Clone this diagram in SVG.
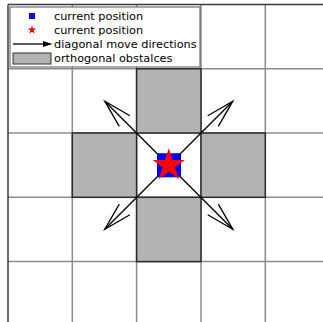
<svg xmlns="http://www.w3.org/2000/svg" width="323" height="322" viewBox="0 0 323 322">
<style>
.grid{stroke:#8c8c8c;stroke-width:1.5;fill:none}
.frame{stroke:#3a3a3a;stroke-width:1.5;fill:none}
.obs{fill:#b3b3b3;stroke:#2a2a2a;stroke-width:1.5}
.conn{stroke:#000;stroke-width:1.3;fill:none}
.lbl{font-family:"DejaVu Sans","Liberation Sans",sans-serif;font-size:11.3px;fill:#000}
</style>
<defs>
<marker id="open" markerUnits="userSpaceOnUse" orient="auto" refX="0" refY="0" markerWidth="40" markerHeight="40" overflow="visible">
<path d="M-28,-7.5 L0,0 L-28,7.5" fill="none" stroke="#000" stroke-width="1.3"/>
</marker>
<path id="star" d="M0,-1 L0.2245,-0.309 L0.9511,-0.309 L0.3633,0.118 L0.5878,0.809 L0,0.382 L-0.5878,0.809 L-0.3633,0.118 L-0.9511,-0.309 L-0.2245,-0.309 Z"/>
</defs>
<rect width="323" height="322" fill="#fff"/>
<g id="grid">
<line class="grid" x1="72.3" y1="4.5" x2="72.3" y2="322"/>
<line class="grid" x1="136.6" y1="4.5" x2="136.6" y2="322"/>
<line class="grid" x1="201" y1="4.5" x2="201" y2="322"/>
<line class="grid" x1="265.3" y1="4.5" x2="265.3" y2="322"/>
<line class="grid" x1="8" y1="68.8" x2="323" y2="68.8"/>
<line class="grid" x1="8" y1="133" x2="323" y2="133"/>
<line class="grid" x1="8" y1="197.3" x2="323" y2="197.3"/>
<line class="grid" x1="8" y1="261.6" x2="323" y2="261.6"/>
<line class="frame" x1="8" y1="4.5" x2="8" y2="322"/>
<line class="frame" x1="8" y1="4.5" x2="323" y2="4.5"/>
</g>
<g id="obstacle-top"><rect class="obs" x="136.6" y="68.8" width="64.4" height="64.2"/></g>
<g id="obstacle-left"><rect class="obs" x="72.3" y="133" width="64.3" height="64.3"/></g>
<g id="obstacle-right"><rect class="obs" x="201" y="133" width="64.3" height="64.3"/></g>
<g id="obstacle-bottom"><rect class="obs" x="136.6" y="197.3" width="64.4" height="64.3"/></g>
<g id="connectors">
<line class="conn" x1="168.8" y1="165.2" x2="104.8" y2="101.2" marker-end="url(#open)"/>
<line class="conn" x1="168.8" y1="165.2" x2="232.8" y2="101.2" marker-end="url(#open)"/>
<line class="conn" x1="168.8" y1="165.2" x2="104.8" y2="229.2" marker-end="url(#open)"/>
<line class="conn" x1="168.8" y1="165.2" x2="232.8" y2="229.2" marker-end="url(#open)"/>
</g>
<g id="current-position">
<rect x="157.5" y="153.8" width="23" height="23" fill="#0000ff" stroke="#0000cc" stroke-width="1"/>
<use href="#star" fill="#ff0000" transform="translate(168.8,165.2) scale(17)"/>
</g>
<g id="legend">
<rect x="10" y="7" width="190" height="60" fill="#fff" stroke="#555" stroke-width="1"/>
<rect x="29" y="13" width="6" height="6" fill="#0000ff"/>
<use href="#star" fill="#ff0000" transform="translate(32,30) scale(4.5)"/>
<line x1="13" y1="44" x2="45" y2="44" stroke="#000" stroke-width="1.3"/>
<polygon points="52.5,44 43,41 43,47" fill="#000"/>
<rect x="13" y="53" width="38" height="11" fill="#b3b3b3" stroke="#333" stroke-width="1"/>
<text class="lbl" x="54" y="20">current position</text>
<text class="lbl" x="54" y="34">current position</text>
<text class="lbl" x="54" y="48">diagonal move directions</text>
<text class="lbl" x="54" y="62">orthogonal obstalces</text>
</g>
</svg>
